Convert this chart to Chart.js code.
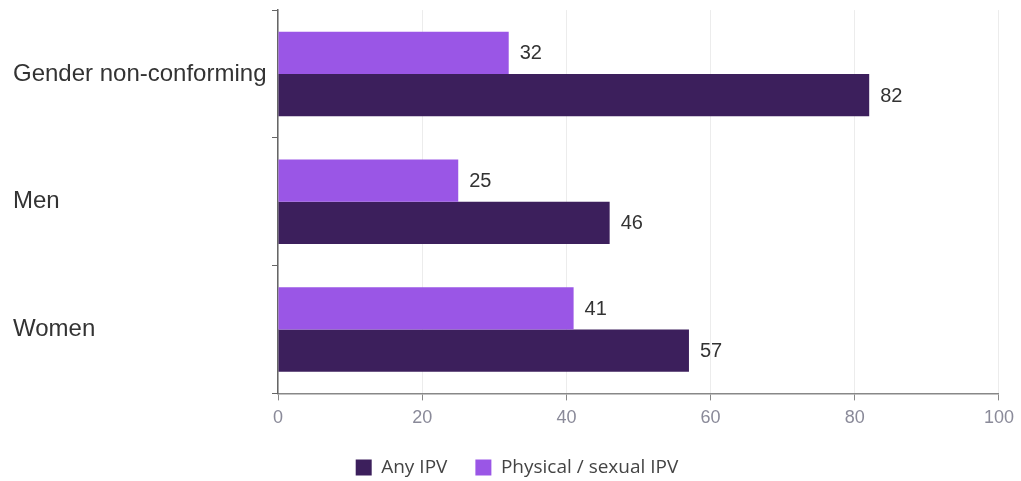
<!DOCTYPE html>
<html>
<head>
<meta charset="utf-8">
<script src="https://cdn.jsdelivr.net/npm/chart.js@4/dist/chart.umd.min.js"></script>
<style>
  body { margin: 0; background: #fff; }
  #wrap { width: 1021px; height: 481px; }
</style>
</head>
<body>
<div id="wrap"><canvas id="chart"></canvas></div>
<script>
const categories = ['Gender non-conforming', 'Men', 'Women']
const anyIpv = [82, 46, 57]
const physicalSexualIpv = [32, 25, 41]
const xTicks = [0, 20, 40, 60, 80, 100]

// draws the value just right of each bar
const valueLabels = {
    id: 'valueLabels',
    afterDatasetsDraw(chart) {
        const ctx = chart.ctx
        ctx.save()
        ctx.font = '20px "Liberation Sans", Arial, sans-serif'
        ctx.fillStyle = '#333'
        ctx.textBaseline = 'middle'
        ctx.textAlign = 'left'
        chart.data.datasets.forEach((ds, i) => {
            chart.getDatasetMeta(i).data.forEach((bar, j) => {
                ctx.fillText(ds.data[j], bar.x + 11, bar.y + 1)
            })
        })
        ctx.restore()
    },
}

new Chart(document.getElementById('chart'), {
    type: 'bar',
    data: {
        labels: categories,
        datasets: [
            {
                label: 'Physical / sexual IPV',
                data: physicalSexualIpv,
                backgroundColor: '#9a56e6',
                categoryPercentage: 0.66,
                barPercentage: 1,
            },
            {
                label: 'Any IPV',
                data: anyIpv,
                backgroundColor: '#3c1f5c',
                categoryPercentage: 0.66,
                barPercentage: 1,
            },
        ],
    },
    options: {
        indexAxis: 'y',
        responsive: true,
        maintainAspectRatio: false,
        animation: false,
        layout: { padding: { left: 13, right: 0, top: 0, bottom: -6 } },
        plugins: {
            legend: {
                position: 'bottom',
                reverse: true,
                labels: {
                    boxWidth: 16,
                    boxHeight: 16,
                    padding: 28,
                    color: '#444',
                    font: { family: '"Open Sans", sans-serif', size: 19 },
                },
            },
            tooltip: { enabled: false },
        },
        scales: {
            x: {
                min: 0,
                max: 100,
                afterBuildTicks: (scale) => {
                    scale.ticks = xTicks.map((v) => ({ value: v }))
                },
                afterFit: (scale) => {
                    scale.height -= 6
                },
                grid: { color: '#ececec', tickColor: '#888', tickLength: 7 },
                border: { color: '#888', width: 1.5 },
                ticks: {
                    color: '#8a8a99',
                    padding: 7,
                    font: { family: '"Liberation Sans", Arial, sans-serif', size: 18 },
                },
            },
            y: {
                grid: { drawOnChartArea: false, offset: true, tickColor: '#666', tickLength: 6 },
                border: { color: '#666', width: 1.5 },
                ticks: {
                    crossAlign: 'far',
                    padding: 0,
                    color: '#333',
                    font: { family: '"Liberation Sans", Arial, sans-serif', size: 24, lineHeight: 0.84 },
                },
                afterFit: (scale) => {
                    scale.width = 265
                },
            },
        },
    },
    plugins: [valueLabels],
})
</script>
</body>
</html>
